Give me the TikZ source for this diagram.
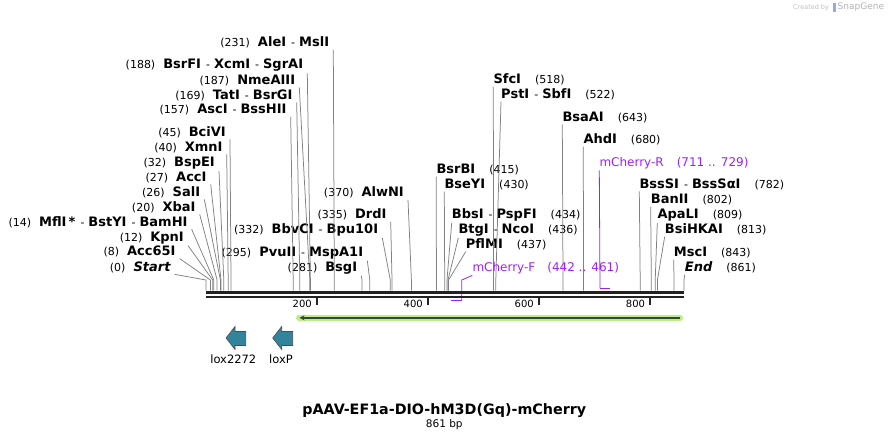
\documentclass[tikz,border=0pt]{standalone}
\usepackage{fontspec}
\setmainfont{DejaVu Sans}
\usetikzlibrary{arrows.meta}

\definecolor{cutline}{RGB}{128,128,128}
\definecolor{primer}{RGB}{160,32,240}
\definecolor{loxfill}{RGB}{49,132,155}
\definecolor{featgreen}{RGB}{184,240,136}
\definecolor{bbone}{RGB}{34,34,34}
\newcommand{\enz}[1]{{\fontsize{13}{15}\selectfont\bfseries #1}}
\newcommand{\enzi}[1]{{\fontsize{13}{15}\selectfont\bfseries\itshape #1}}
\newcommand{\sep}{\hspace{5pt}-\hspace{4pt}}

\begin{document}
\begin{tikzpicture}[x=1pt,y=-1pt,
  enzl/.style={anchor=base east,inner xsep=4pt,inner ysep=1.5pt,font=\fontsize{11}{13}\selectfont},
  enzr/.style={anchor=base west,inner xsep=0pt,inner ysep=1.5pt,font=\fontsize{11}{13}\selectfont},
  primlab/.style={enzr,text=primer,font=\fontsize{12}{14}\selectfont},
  cut/.style={draw=cutline,line width=0.75pt},
  primbar/.style={draw=primer,line width=1.5pt},
  tickmark/.style={draw=bbone,line width=2pt},
  ticklab/.style={anchor=east,inner sep=0pt,font=\fontsize{10}{12}\selectfont},
  lox/.style={fill=loxfill,draw=black!70,line width=0.6pt},
  featlab/.style={inner sep=0pt,font=\fontsize{11.5}{13}\selectfont}]
\useasboundingbox (0,0) rectangle (891,441);
\coordinate (bb) at (0,290.5);
%sitios de corte
  \coordinate (kStart) at (206,280);
  \coordinate (kAcc) at (210.4,280);
  \coordinate (kKpn) at (212.7,280);
  \coordinate (kMfl) at (213.8,280);
  \coordinate (kXba) at (217.1,280);
  \coordinate (kSal) at (220.4,280);
  \coordinate (kAccI) at (221,280);
  \coordinate (kBspE) at (223.8,280);
  \coordinate (kXmn) at (228.2,280);
  \coordinate (kBciV) at (231,280);
  \coordinate (kAsc) at (293.2,280);
  \coordinate (kTat) at (299.8,280);
  \coordinate (kNme) at (309.8,280);
  \coordinate (kBsrF) at (310.4,280);
  \coordinate (kAle) at (334.3,280);
  \coordinate (kBsg) at (362,280);
  \coordinate (kPvu) at (369.8,280);
  \coordinate (kBbvC) at (390.3,280);
  \coordinate (kDrd) at (392,280);
  \coordinate (kAlwN) at (411.4,280);
  \coordinate (kBsrB) at (436.4,280);
  \coordinate (kBseY) at (444.7,280);
  \coordinate (kBbs) at (447,280);
  \coordinate (kBtg) at (448,280);
  \coordinate (kPflM) at (448.6,280);
  \coordinate (kSfc) at (493.6,280);
  \coordinate (kPst) at (495.8,280);
  \coordinate (kBsaA) at (563,280);
  \coordinate (kAhd) at (583.5,280);
  \coordinate (kBssS) at (640.2,280);
  \coordinate (kBanII) at (651.3,280);
  \coordinate (kApaL) at (655.2,280);
  \coordinate (kBsiHKA) at (657.4,280);
  \coordinate (kMsc) at (674,280);
  \coordinate (kEnd) at (684,280);
%rotulos esquerda
  \node[enzl] (Start) at (174.7,271.2) {(0)\hspace{8pt}\enzi{Start}};
  \node[enzl] (Acc65I) at (179.7,255.5) {(8)\hspace{8pt}\enz{Acc65I}};
  \node[enzl] (KpnI) at (188,241.2) {(12)\hspace{8pt}\enz{KpnI}};
  \node[enzl] (MflI) at (191.7,226.2) {(14)\hspace{8pt}\enz{MflI\,*}\sep\enz{BstYI}\sep\enz{BamHI}};
  \node[enzl] (XbaI) at (199.7,211.2) {(20)\hspace{8pt}\enz{XbaI}};
  \node[enzl] (SalI) at (204.3,196.2) {(26)\hspace{8pt}\enz{SalI}};
  \node[enzl] (AccI) at (210.7,181.2) {(27)\hspace{8pt}\enz{AccI}};
  \node[enzl] (BspEI) at (219,166.8) {(32)\hspace{8pt}\enz{BspEI}};
  \node[enzl] (XmnI) at (226.7,151.2) {(40)\hspace{8pt}\enz{XmnI}};
  \node[enzl] (BciVI) at (230,136.2) {(45)\hspace{8pt}\enz{BciVI}};
  \node[enzl] (AscI) at (290.7,113.8) {(157)\hspace{8pt}\enz{AscI}\sep\enz{BssHII}};
  \node[enzl] (TatI) at (296.7,99.2) {(169)\hspace{8pt}\enz{TatI}\sep\enz{BsrGI}};
  \node[enzl] (NmeAIII) at (299.3,84.2) {(187)\hspace{8pt}\enz{NmeAIII}};
  \node[enzl] (BsrFI) at (307.3,68.8) {(188)\hspace{8pt}\enz{BsrFI}\sep\enz{XcmI}\sep\enz{SgrAI}};
  \node[enzl] (AleI) at (333.3,46.8) {(231)\hspace{8pt}\enz{AleI}\sep\enz{MslI}};
  \node[enzl] (BbvCI) at (382.3,233.5) {(332)\hspace{8pt}\enz{BbvCI}\sep\enz{Bpu10I}};
  \node[enzl] (DrdI) at (390.7,218.5) {(335)\hspace{8pt}\enz{DrdI}};
  \node[enzl] (AlwNI) at (408,196.8) {(370)\hspace{8pt}\enz{AlwNI}};
  \node[enzl] (PvuII) at (367.3,256.2) {(295)\hspace{8pt}\enz{PvuII}\sep\enz{MspA1I}};
  \node[enzl] (BsgI) at (361.3,271.2) {(281)\hspace{8pt}\enz{BsgI}};
%rotulos direita
  \node[enzr] (BsrBI) at (436.3,173.5) {\enz{BsrBI}\hspace{14pt}(415)};
  \node[enzr] (BseYI) at (444.3,188.5) {\enz{BseYI}\hspace{14pt}(430)};
  \node[enzr] (BbsI) at (451.7,218.5) {\enz{BbsI}\sep\enz{PspFI}\hspace{14pt}(434)};
  \node[enzr] (BtgI) at (458.3,233.5) {\enz{BtgI}\sep\enz{NcoI}\hspace{14pt}(436)};
  \node[enzr] (PflMI) at (465.7,248.5) {\enz{PflMI}\hspace{14pt}(437)};
  \node[enzr] (SfcI) at (493.3,83.5) {\enz{SfcI}\hspace{14pt}(518)};
  \node[enzr] (PstI) at (501,98.5) {\enz{PstI}\sep\enz{SbfI}\hspace{14pt}(522)};
  \node[enzr] (BsaAI) at (562.3,121.2) {\enz{BsaAI}\hspace{14pt}(643)};
  \node[enzr] (AhdI) at (583.3,143.5) {\enz{AhdI}\hspace{14pt}(680)};
  \node[enzr] (BssSI) at (639.3,188.2) {\enz{BssSI}\sep\enz{BssSαI}\hspace{14pt}(782)};
  \node[enzr] (BanII) at (650.7,203.5) {\enz{BanII}\hspace{14pt}(802)};
  \node[enzr] (ApaLI) at (657.3,218.5) {\enz{ApaLI}\hspace{14pt}(809)};
  \node[enzr] (BsiHKAI) at (664.7,233.5) {\enz{BsiHKAI}\hspace{14pt}(813)};
  \node[enzr] (MscI) at (673.7,256.5) {\enz{MscI}\hspace{14pt}(843)};
  \node[enzr] (End) at (684.7,271.5) {\enzi{End}\hspace{14pt}(861)};
%linhas dos sitios
  \draw[cut] (Start.south east) -- (kStart) -- (kStart |- bb);
  \draw[cut] (Acc65I.south east) -- (kAcc) -- (kAcc |- bb);
  \draw[cut] (KpnI.south east) -- (kKpn) -- (kKpn |- bb);
  \draw[cut] (MflI.south east) -- (kMfl) -- (kMfl |- bb);
  \draw[cut] (XbaI.south east) -- (kXba) -- (kXba |- bb);
  \draw[cut] (SalI.south east) -- (kSal) -- (kSal |- bb);
  \draw[cut] (AccI.south east) -- (kAccI) -- (kAccI |- bb);
  \draw[cut] (BspEI.south east) -- (kBspE) -- (kBspE |- bb);
  \draw[cut] (XmnI.south east) -- (kXmn) -- (kXmn |- bb);
  \draw[cut] (BciVI.south east) -- (kBciV) -- (kBciV |- bb);
  \draw[cut] (AscI.south east) -- (kAsc) -- (kAsc |- bb);
  \draw[cut] (TatI.south east) -- (kTat) -- (kTat |- bb);
  \draw[cut] (NmeAIII.south east) -- (kNme) -- (kNme |- bb);
  \draw[cut] (BsrFI.south east) -- (kBsrF) -- (kBsrF |- bb);
  \draw[cut] (AleI.south east) -- (kAle) -- (kAle |- bb);
  \draw[cut] (BbvCI.south east) -- (kBbvC) -- (kBbvC |- bb);
  \draw[cut] (DrdI.south east) -- (kDrd) -- (kDrd |- bb);
  \draw[cut] (AlwNI.south east) -- (kAlwN) -- (kAlwN |- bb);
  \draw[cut] (PvuII.south east) -- (kPvu) -- (kPvu |- bb);
  \draw[cut] (BsgI.south east) -- (kBsg) -- (kBsg |- bb);
  \draw[cut] (BsrBI.south west) -- (kBsrB) -- (kBsrB |- bb);
  \draw[cut] (BseYI.south west) -- (kBseY) -- (kBseY |- bb);
  \draw[cut] (BbsI.south west) -- (kBbs) -- (kBbs |- bb);
  \draw[cut] (BtgI.south west) -- (kBtg) -- (kBtg |- bb);
  \draw[cut] (PflMI.south west) -- (kPflM) -- (kPflM |- bb);
  \draw[cut] (SfcI.south west) -- (kSfc) -- (kSfc |- bb);
  \draw[cut] (PstI.south west) -- (kPst) -- (kPst |- bb);
  \draw[cut] (BsaAI.south west) -- (kBsaA) -- (kBsaA |- bb);
  \draw[cut] (AhdI.south west) -- (kAhd) -- (kAhd |- bb);
  \draw[cut] (BssSI.south west) -- (kBssS) -- (kBssS |- bb);
  \draw[cut] (BanII.south west) -- (kBanII) -- (kBanII |- bb);
  \draw[cut] (ApaLI.south west) -- (kApaL) -- (kApaL |- bb);
  \draw[cut] (BsiHKAI.south west) -- (kBsiHKA) -- (kBsiHKA |- bb);
  \draw[cut] (MscI.south west) -- (kMsc) -- (kMsc |- bb);
  \draw[cut] (End.south west) -- (kEnd) -- (kEnd |- bb);
%primers
  \node[primlab] (mChF) at (472.3,271.2) {mCherry-F\hspace{12pt}(442 .. 461)};
  \node[primlab] (mChR) at (599.3,166.2) {mCherry-R\hspace{13pt}(711 .. 729)};
  \coordinate (fEnd) at (461.7,300.5);
  \coordinate (fStart) at (451.2,300.5);
  \coordinate (rStart) at (600,288.3);
  \coordinate (rEnd) at (610,288.3);
  \draw[draw=primer,line width=0.8pt] (mChF.south west) -- (fEnd |- kEnd) -- (fEnd);
  \draw[primbar] (fStart) -- (fEnd);
  \draw[draw=primer,line width=0.8pt] (mChR.south west) -- (rStart);
  \draw[primbar] (rStart) -- (rEnd);
%backbone
  \draw[bbone,line width=3pt] (206,292) -- (684,292);
  \draw[bbone,line width=2pt] (206,296.6) -- (684,296.6);
%escala
  \draw[tickmark] (317,297) -- (317,305);
  \draw[tickmark] (428,297) -- (428,305);
  \draw[tickmark] (539,297) -- (539,305);
  \draw[tickmark] (650.2,297) -- (650.2,305);
  \node[ticklab] (t200) at (312,304) {200};
  \node[ticklab] (t400) at (423,304) {400};
  \node[ticklab] (t600) at (534,304) {600};
  \node[ticklab] (t800) at (645.2,304) {800};
%features
  \draw[featgreen,line width=6pt,line cap=round] (299,317.8) -- (680,317.8);
  \draw[black!75,line width=1.6pt,-{Stealth[length=5pt,width=5pt]}] (680,317.8) -- (299.5,317.8);
  \draw[lox] (226,338) -- (235,326.5) -- (235,331.5) -- (245.7,331.5) -- (245.7,345.5) -- (235,345.5) -- (235,349.5) -- cycle;
  \draw[lox] (272.7,338) -- (281.7,326.5) -- (281.7,331.5) -- (292.7,331.5) -- (292.7,345.5) -- (281.7,345.5) -- (281.7,349.5) -- cycle;
  \node[featlab] (lox2272) at (233.3,359.5) {lox2272};
  \node[featlab] (loxP) at (281,359.5) {loxP};
%titulo
  \node[inner sep=0pt,font=\fontsize{14.3}{16}\selectfont\bfseries] (title) at (444.3,410.5) {pAAV-EF1a-DIO-hM3D(Gq)-mCherry};
  \node[inner sep=0pt,font=\fontsize{10.5}{12}\selectfont] (bp) at (444.3,425) {861 bp};
%marca
  \node[inner sep=0pt,anchor=west,text=black!25,font=\fontsize{6.5}{7}\selectfont] (made) at (793,7.5) {Created by};
  \fill[cyan!50!blue!45] (833,3) rectangle (836,12);
  \node[inner sep=0pt,anchor=west,text=black!30,font=\fontsize{9}{10}\selectfont] (snap) at (837.5,7.5) {SnapGene};
\end{tikzpicture}
\end{document}
